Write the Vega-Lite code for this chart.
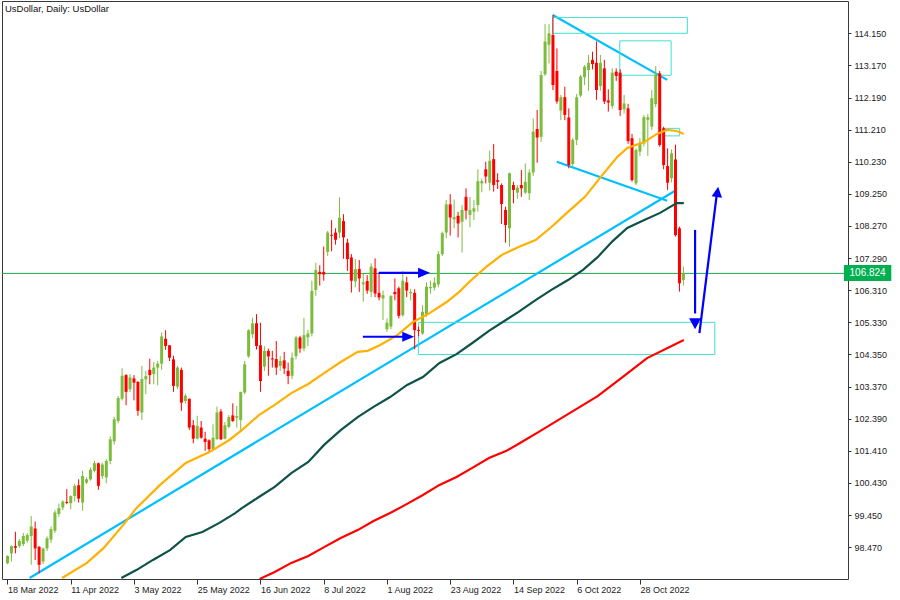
{
"$schema":"https://vega.github.io/schema/vega-lite/v6.json",
"width":846,"height":578,
"autosize":"none",
"padding":{"left":2,"top":1,"right":52,"bottom":21},
"background":"white",
"title":{"text":"UsDollar, Daily:  UsDollar","anchor":"start","frame":"group","orient":"top","offset":-20,"dx":3,"baseline":"alphabetic","font":"Liberation Sans","fontSize":9.5,"fontWeight":"normal","color":"#111111"},
"config":{"view":{"stroke":"#3a3a3a","strokeWidth":1},"font":"Liberation Sans"},
"datasets":{
"candles":[
{"i":0,"o":97.98,"h":98.22,"l":97.95,"c":98.2},
{"i":1,"o":98.28,"h":98.52,"l":98.03,"c":98.5},
{"i":2,"o":98.5,"h":98.94,"l":98.28,"c":98.45},
{"i":3,"o":98.5,"h":98.72,"l":98.45,"c":98.66},
{"i":4,"o":98.56,"h":98.9,"l":98.5,"c":98.81},
{"i":5,"o":98.67,"h":98.9,"l":98.6,"c":98.84},
{"i":6,"o":98.81,"h":99.42,"l":97.93,"c":99.1},
{"i":7,"o":99.04,"h":99.25,"l":98.08,"c":98.43},
{"i":8,"o":98.48,"h":98.5,"l":97.67,"c":97.93},
{"i":9,"o":98.03,"h":98.46,"l":97.95,"c":98.43},
{"i":10,"o":98.43,"h":98.8,"l":98.35,"c":98.74},
{"i":11,"o":98.7,"h":99.1,"l":98.6,"c":99.02},
{"i":12,"o":98.97,"h":99.6,"l":98.9,"c":99.53},
{"i":13,"o":99.48,"h":99.8,"l":99.4,"c":99.66},
{"i":14,"o":99.68,"h":99.9,"l":99.6,"c":99.86},
{"i":15,"o":99.85,"h":100.24,"l":99.78,"c":99.82},
{"i":16,"o":99.81,"h":100.05,"l":99.63,"c":100.03},
{"i":17,"o":100.03,"h":100.4,"l":99.86,"c":100.34},
{"i":18,"o":100.36,"h":100.54,"l":99.83,"c":99.95},
{"i":19,"o":99.83,"h":100.8,"l":99.58,"c":100.64},
{"i":20,"o":100.44,"h":100.6,"l":100.4,"c":100.54},
{"i":21,"o":100.54,"h":100.9,"l":100.5,"c":100.83},
{"i":22,"o":100.8,"h":101.1,"l":100.75,"c":101.03},
{"i":23,"o":101.03,"h":101.05,"l":100.22,"c":100.34},
{"i":24,"o":100.64,"h":101.05,"l":100.55,"c":100.99},
{"i":25,"o":100.6,"h":101.15,"l":100.42,"c":101.1},
{"i":26,"o":101.1,"h":101.85,"l":101.0,"c":101.76},
{"i":27,"o":101.7,"h":102.45,"l":101.6,"c":102.37},
{"i":28,"o":102.32,"h":103.08,"l":102.25,"c":103.02},
{"i":29,"o":103.0,"h":103.93,"l":102.95,"c":103.7},
{"i":30,"o":103.72,"h":103.75,"l":102.8,"c":103.21},
{"i":31,"o":103.29,"h":103.75,"l":103.2,"c":103.65},
{"i":32,"o":103.62,"h":103.72,"l":102.95,"c":103.49},
{"i":33,"o":103.51,"h":103.54,"l":102.48,"c":102.63},
{"i":34,"o":102.58,"h":104.0,"l":102.35,"c":103.6},
{"i":35,"o":103.59,"h":103.85,"l":103.14,"c":103.69},
{"i":36,"o":103.88,"h":104.22,"l":103.44,"c":103.72},
{"i":37,"o":103.75,"h":104.12,"l":103.44,"c":103.95},
{"i":38,"o":103.95,"h":104.15,"l":103.41,"c":104.07},
{"i":39,"o":104.07,"h":105.02,"l":103.88,"c":104.9},
{"i":40,"o":104.83,"h":105.09,"l":104.49,"c":104.61},
{"i":41,"o":104.63,"h":104.63,"l":104.15,"c":104.25},
{"i":42,"o":104.2,"h":104.31,"l":103.21,"c":103.39},
{"i":43,"o":103.37,"h":104.0,"l":103.3,"c":103.95},
{"i":44,"o":103.88,"h":103.95,"l":102.63,"c":102.88},
{"i":45,"o":102.93,"h":103.15,"l":102.85,"c":103.09},
{"i":46,"o":103.0,"h":103.0,"l":102.05,"c":102.12},
{"i":47,"o":102.19,"h":102.35,"l":101.64,"c":101.78},
{"i":48,"o":101.78,"h":102.48,"l":101.76,"c":102.17},
{"i":49,"o":102.12,"h":102.32,"l":101.78,"c":101.81},
{"i":50,"o":101.78,"h":101.99,"l":101.41,"c":101.68},
{"i":51,"o":101.73,"h":101.76,"l":101.34,"c":101.46},
{"i":52,"o":101.46,"h":102.22,"l":101.44,"c":101.81},
{"i":53,"o":101.76,"h":102.76,"l":101.76,"c":102.58},
{"i":54,"o":102.61,"h":102.68,"l":101.74,"c":101.76},
{"i":55,"o":101.78,"h":102.29,"l":101.76,"c":102.19},
{"i":56,"o":102.14,"h":102.5,"l":102.1,"c":102.44},
{"i":57,"o":102.49,"h":102.86,"l":102.29,"c":102.32},
{"i":58,"o":102.42,"h":102.78,"l":102.12,"c":102.47},
{"i":59,"o":102.35,"h":103.21,"l":102.05,"c":103.21},
{"i":60,"o":103.19,"h":104.15,"l":103.14,"c":104.05},
{"i":61,"o":104.29,"h":105.12,"l":104.25,"c":105.09},
{"i":62,"o":104.97,"h":105.47,"l":104.85,"c":105.3},
{"i":63,"o":105.3,"h":105.58,"l":104.5,"c":104.61},
{"i":64,"o":104.63,"h":105.32,"l":103.21,"c":103.54},
{"i":65,"o":103.98,"h":104.6,"l":103.85,"c":104.46},
{"i":66,"o":104.46,"h":104.53,"l":103.7,"c":104.29},
{"i":67,"o":104.23,"h":104.46,"l":103.95,"c":104.2},
{"i":68,"o":104.21,"h":104.76,"l":103.72,"c":103.95},
{"i":69,"o":104.0,"h":104.3,"l":103.85,"c":104.15},
{"i":70,"o":104.17,"h":104.43,"l":103.75,"c":103.92},
{"i":71,"o":103.85,"h":104.1,"l":103.44,"c":103.69},
{"i":72,"o":103.7,"h":104.41,"l":103.6,"c":104.25},
{"i":73,"o":104.3,"h":104.92,"l":104.2,"c":104.87},
{"i":74,"o":104.87,"h":104.92,"l":104.4,"c":104.53},
{"i":75,"o":104.53,"h":105.47,"l":104.45,"c":104.94},
{"i":76,"o":104.87,"h":105.1,"l":104.6,"c":104.99},
{"i":77,"o":104.99,"h":106.6,"l":104.9,"c":106.29},
{"i":78,"o":106.32,"h":107.15,"l":106.14,"c":106.93},
{"i":79,"o":106.87,"h":107.07,"l":106.45,"c":106.8},
{"i":80,"o":106.87,"h":107.64,"l":106.6,"c":106.79},
{"i":81,"o":107.48,"h":108.12,"l":107.36,"c":108.07},
{"i":82,"o":108.0,"h":108.45,"l":107.5,"c":107.97},
{"i":83,"o":108.07,"h":108.2,"l":107.7,"c":107.85},
{"i":84,"o":108.07,"h":109.14,"l":107.9,"c":108.52},
{"i":85,"o":108.42,"h":108.63,"l":107.27,"c":107.92},
{"i":86,"o":107.76,"h":107.88,"l":106.9,"c":107.26},
{"i":87,"o":107.31,"h":107.41,"l":106.24,"c":106.6},
{"i":88,"o":106.58,"h":107.26,"l":106.4,"c":106.95},
{"i":89,"o":106.96,"h":107.23,"l":106.26,"c":106.67},
{"i":90,"o":106.49,"h":106.82,"l":105.96,"c":106.55},
{"i":91,"o":106.59,"h":106.77,"l":106.2,"c":106.3},
{"i":92,"o":106.26,"h":107.13,"l":106.1,"c":107.03},
{"i":93,"o":106.98,"h":107.28,"l":106.1,"c":106.21},
{"i":94,"o":106.23,"h":106.82,"l":106.0,"c":106.09},
{"i":95,"o":106.06,"h":106.3,"l":105.4,"c":106.16},
{"i":96,"o":105.12,"h":105.45,"l":105.04,"c":105.32},
{"i":97,"o":105.2,"h":106.16,"l":105.12,"c":106.13},
{"i":98,"o":106.26,"h":106.67,"l":106.0,"c":106.19},
{"i":99,"o":106.37,"h":106.42,"l":105.45,"c":105.53},
{"i":100,"o":105.55,"h":106.9,"l":105.5,"c":106.6},
{"i":101,"o":106.55,"h":106.72,"l":106.1,"c":106.3},
{"i":102,"o":106.22,"h":106.35,"l":106.0,"c":106.26},
{"i":103,"o":106.23,"h":106.34,"l":104.51,"c":105.09},
{"i":104,"o":105.1,"h":105.2,"l":104.9,"c":105.07},
{"i":105,"o":104.99,"h":105.85,"l":104.95,"c":105.65},
{"i":106,"o":105.55,"h":106.55,"l":105.5,"c":106.42},
{"i":107,"o":106.37,"h":106.6,"l":106.2,"c":106.41},
{"i":108,"o":106.39,"h":106.7,"l":106.3,"c":106.54},
{"i":109,"o":106.49,"h":107.5,"l":106.4,"c":107.41},
{"i":110,"o":107.41,"h":108.1,"l":107.35,"c":108.05},
{"i":111,"o":108.07,"h":109.06,"l":107.9,"c":108.93},
{"i":112,"o":108.93,"h":109.24,"l":107.98,"c":108.53},
{"i":113,"o":108.47,"h":109.08,"l":108.2,"c":108.54},
{"i":114,"o":108.58,"h":108.7,"l":107.92,"c":108.35},
{"i":115,"o":108.4,"h":108.91,"l":107.46,"c":108.76},
{"i":116,"o":109.16,"h":109.42,"l":108.47,"c":108.74},
{"i":117,"o":108.61,"h":109.16,"l":108.23,"c":108.76},
{"i":118,"o":108.71,"h":109.06,"l":108.45,"c":108.81},
{"i":119,"o":108.91,"h":110.0,"l":108.71,"c":109.64},
{"i":120,"o":109.57,"h":109.72,"l":109.3,"c":109.64},
{"i":121,"o":110.0,"h":110.23,"l":109.57,"c":109.78},
{"i":122,"o":109.59,"h":110.57,"l":109.35,"c":110.26},
{"i":123,"o":110.31,"h":110.77,"l":109.32,"c":109.52},
{"i":124,"o":109.67,"h":109.88,"l":109.4,"c":109.62},
{"i":125,"o":109.52,"h":109.57,"l":108.33,"c":108.94},
{"i":126,"o":108.76,"h":108.86,"l":107.76,"c":108.3},
{"i":127,"o":108.2,"h":109.9,"l":107.64,"c":109.88},
{"i":128,"o":109.52,"h":109.62,"l":108.96,"c":109.37},
{"i":129,"o":109.29,"h":109.52,"l":109.1,"c":109.44},
{"i":130,"o":109.52,"h":109.98,"l":109.16,"c":109.42},
{"i":131,"o":109.29,"h":110.18,"l":109.25,"c":109.62},
{"i":132,"o":109.27,"h":110.0,"l":109.06,"c":109.9},
{"i":133,"o":109.9,"h":111.55,"l":109.8,"c":111.15},
{"i":134,"o":111.23,"h":111.81,"l":110.2,"c":110.97},
{"i":135,"o":110.99,"h":113.0,"l":110.84,"c":112.88},
{"i":136,"o":112.9,"h":114.43,"l":112.85,"c":113.9},
{"i":137,"o":113.8,"h":114.43,"l":113.23,"c":114.15},
{"i":138,"o":114.1,"h":114.71,"l":112.42,"c":112.57},
{"i":139,"o":113.0,"h":113.69,"l":112.0,"c":112.07},
{"i":140,"o":111.79,"h":112.27,"l":111.5,"c":112.2},
{"i":141,"o":112.2,"h":112.52,"l":111.5,"c":111.66},
{"i":142,"o":111.58,"h":111.86,"l":110.03,"c":110.13},
{"i":143,"o":110.16,"h":110.95,"l":110.1,"c":110.9},
{"i":144,"o":110.9,"h":112.3,"l":110.74,"c":112.2},
{"i":145,"o":112.25,"h":112.88,"l":112.2,"c":112.83},
{"i":146,"o":112.81,"h":113.18,"l":112.57,"c":113.13},
{"i":147,"o":113.03,"h":113.49,"l":112.4,"c":113.25},
{"i":148,"o":113.34,"h":113.59,"l":113.05,"c":113.21},
{"i":149,"o":113.25,"h":113.9,"l":112.12,"c":112.42},
{"i":150,"o":112.54,"h":113.49,"l":112.4,"c":113.25},
{"i":151,"o":113.08,"h":113.34,"l":111.99,"c":112.07},
{"i":152,"o":112.1,"h":112.44,"l":111.76,"c":112.04},
{"i":153,"o":111.93,"h":113.08,"l":111.85,"c":112.95},
{"i":154,"o":112.98,"h":113.08,"l":112.7,"c":112.85},
{"i":155,"o":112.95,"h":113.05,"l":111.63,"c":111.81},
{"i":156,"o":111.83,"h":112.27,"l":111.7,"c":112.01},
{"i":157,"o":111.86,"h":112.0,"l":110.78,"c":110.86},
{"i":158,"o":110.95,"h":111.08,"l":109.62,"c":109.67},
{"i":159,"o":109.57,"h":110.64,"l":109.52,"c":110.59},
{"i":160,"o":110.54,"h":110.95,"l":110.4,"c":110.81},
{"i":161,"o":110.79,"h":111.66,"l":110.7,"c":111.59},
{"i":162,"o":111.51,"h":111.69,"l":110.41,"c":111.59},
{"i":163,"o":111.3,"h":112.42,"l":111.2,"c":112.17},
{"i":164,"o":111.99,"h":113.15,"l":111.9,"c":112.88},
{"i":165,"o":112.93,"h":113.0,"l":110.69,"c":110.74},
{"i":166,"o":111.25,"h":111.3,"l":110.0,"c":110.13},
{"i":167,"o":110.1,"h":110.64,"l":109.37,"c":109.59},
{"i":168,"o":109.73,"h":110.61,"l":109.6,"c":110.49},
{"i":169,"o":110.3,"h":110.75,"l":107.95,"c":107.99},
{"i":170,"o":108.2,"h":108.25,"l":106.27,"c":106.52},
{"i":171,"o":106.62,"h":107.03,"l":106.45,"c":106.824}
],
"maOrange":[
{"i":13.8,"p":97.53},{"i":20.1,"p":97.99},{"i":24.3,"p":98.44},{"i":29.3,"p":99.15},{"i":32.6,"p":99.66},{"i":38.6,"p":100.37},{"i":45.1,"p":101.04},{"i":51.1,"p":101.37},{"i":56.1,"p":101.74},{"i":59.3,"p":102.04},{"i":63.6,"p":102.5},{"i":67.6,"p":102.81},{"i":71.8,"p":103.17},{"i":76.1,"p":103.45},{"i":80.1,"p":103.78},{"i":84.3,"p":104.12},{"i":88.6,"p":104.43},{"i":91.1,"p":104.46},{"i":94.3,"p":104.64},{"i":98.6,"p":104.94},{"i":102.6,"p":105.34},{"i":106.8,"p":105.61},{"i":111.1,"p":105.95},{"i":114.3,"p":106.26},{"i":116.8,"p":106.56},{"i":121.1,"p":107.02},{"i":125.1,"p":107.39},{"i":129.3,"p":107.63},{"i":133.6,"p":107.84},{"i":137.6,"p":108.24},{"i":141.8,"p":108.7},{"i":146.1,"p":109.16},{"i":150.1,"p":109.77},{"i":154.3,"p":110.38},{"i":156.8,"p":110.65},{"i":161.1,"p":110.83},{"i":164.3,"p":111.08},{"i":166.8,"p":111.2},{"i":169.3,"p":111.17},{"i":171.1,"p":111.08}
],
"maDark":[
{"i":28.8,"p":97.53},{"i":32.6,"p":97.77},{"i":36.8,"p":98.08},{"i":41.1,"p":98.38},{"i":45.1,"p":98.78},{"i":49.3,"p":98.93},{"i":53.6,"p":99.21},{"i":57.6,"p":99.51},{"i":59.3,"p":99.66},{"i":63.6,"p":100.0},{"i":67.6,"p":100.31},{"i":71.8,"p":100.73},{"i":76.1,"p":101.07},{"i":80.1,"p":101.59},{"i":84.3,"p":102.04},{"i":88.6,"p":102.44},{"i":92.6,"p":102.75},{"i":96.8,"p":103.05},{"i":101.1,"p":103.42},{"i":105.1,"p":103.66},{"i":109.3,"p":104.09},{"i":113.6,"p":104.36},{"i":117.6,"p":104.7},{"i":121.8,"p":105.07},{"i":129.3,"p":105.65},{"i":133.6,"p":106.01},{"i":137.6,"p":106.32},{"i":141.8,"p":106.62},{"i":145.6,"p":106.93},{"i":149.3,"p":107.32},{"i":153.1,"p":107.81},{"i":156.8,"p":108.21},{"i":161.1,"p":108.45},{"i":165.1,"p":108.67},{"i":169.3,"p":108.97},{"i":171.1,"p":108.97}
],
"maRed":[
{"i":63.8,"p":97.5},{"i":67.6,"p":97.71},{"i":71.8,"p":97.99},{"i":76.1,"p":98.2},{"i":80.1,"p":98.47},{"i":84.3,"p":98.75},{"i":88.6,"p":98.99},{"i":92.6,"p":99.27},{"i":96.8,"p":99.51},{"i":101.1,"p":99.79},{"i":105.1,"p":100.06},{"i":109.3,"p":100.37},{"i":113.6,"p":100.61},{"i":117.6,"p":100.89},{"i":121.8,"p":101.19},{"i":126.1,"p":101.4},{"i":130.1,"p":101.68},{"i":134.3,"p":101.98},{"i":141.8,"p":102.53},{"i":149.3,"p":103.08},{"i":155.6,"p":103.66},{"i":161.8,"p":104.24},{"i":171.1,"p":104.79}
],
"trend":[
{"i":5.6,"p":97.53,"i2":168.8,"p2":109.34},
{"i":137.95,"p":114.71,"i2":166.9,"p2":112.73},
{"i":138.95,"p":110.23,"i2":166.9,"p2":109.04}
],
"boxes":[
{"i":137.9,"p":114.63,"i2":172.0,"p2":114.15},
{"i":154.9,"p":113.92,"i2":167.9,"p2":112.87},
{"i":165.95,"p":111.25,"i2":170.05,"p2":111.02},
{"i":103.95,"p":105.33,"i2":178.95,"p2":104.35}
],
"shafts":[
{"i":93.9,"p":106.84,"i2":105.5,"p2":106.84},
{"i":89.9,"p":104.89,"i2":101.5,"p2":104.89},
{"i":173.95,"p":108.15,"i2":173.95,"p2":105.6},
{"i":175.05,"p":105.0,"i2":179.4,"p2":109.2}
],
"heads":[
{"kind":"right","i":106.9,"p":106.84},
{"kind":"right","i":102.9,"p":104.89},
{"kind":"down","i":173.95,"p":105.12},
{"kind":"up","i":179.8,"p":109.47}
],
"last":[{"i":211.6,"i2":223.6,"p":107.08,"p2":106.59,"im":217.6,"c":106.824}]
},
"layer":[
{"data":{"name":"last"},"mark":{"type":"rule","color":"#1aa64a","strokeWidth":1},
 "encoding":{"y":{"field":"c","type":"quantitative","scale":{"domain":[97.498,115.136],"nice":false,"zero":false},
   "axis":{"title":null,"orient":"right","values":[98.47,99.45,100.43,101.41,102.39,103.37,104.35,105.33,106.31,107.29,108.27,109.25,110.23,111.21,112.19,113.17,114.15],"tickCount":40,"format":".3f","grid":false,"domain":false,"tickSize":3,"tickColor":"#333333","labelPadding":3,"labelFont":"Liberation Sans","labelFontSize":9,"labelColor":"#222222","labelOverlap":false,"labelBound":false,"labelFlush":false}}}},
{"data":{"name":"trend"},"mark":{"type":"rule","color":"#00bfff","strokeWidth":2.2,"clip":true},
 "encoding":{"x":{"field":"i","type":"quantitative","scale":{"domain":[-0.125,211.375],"nice":false,"zero":false},
   "axis":{"title":null,"values":[0,16,32,48,64,80,96,112,128,144,160],"tickCount":40,"labelExpr":"['18 Mar 2022','11 Apr 2022','3 May 2022','25 May 2022','16 Jun 2022','8 Jul 2022','1 Aug 2022','23 Aug 2022','14 Sep 2022','6 Oct 2022','28 Oct 2022'][round(datum.value/16)]","grid":false,"domain":false,"tickSize":5,"tickColor":"#333333","labelAlign":"left","labelBaseline":"alphabetic","labelPadding":8,"labelFont":"Liberation Sans","labelFontSize":9,"labelColor":"#222222","labelFlush":false,"labelOverlap":false,"labelBound":false}},
  "x2":{"field":"i2"},
  "y":{"field":"p","type":"quantitative","scale":{"domain":[97.498,115.136],"nice":false,"zero":false},
   "axis":{"title":null,"orient":"right","values":[98.47,99.45,100.43,101.41,102.39,103.37,104.35,105.33,106.31,107.29,108.27,109.25,110.23,111.21,112.19,113.17,114.15],"tickCount":40,"format":".3f","grid":false,"domain":false,"tickSize":3,"tickColor":"#333333","labelPadding":3,"labelFont":"Liberation Sans","labelFontSize":9,"labelColor":"#222222","labelOverlap":false,"labelBound":false,"labelFlush":false}},
  "y2":{"field":"p2"}}},
{"data":{"name":"boxes"},"mark":{"type":"rect","filled":false,"stroke":"#40e0d0","strokeWidth":1},
 "encoding":{"x":{"field":"i","type":"quantitative"},"x2":{"field":"i2"},"y":{"field":"p","type":"quantitative"},"y2":{"field":"p2"}}},
{"data":{"name":"candles"},"mark":{"type":"rule","strokeWidth":1},
 "encoding":{"x":{"field":"i","type":"quantitative"},"y":{"field":"l","type":"quantitative"},"y2":{"field":"h"},
  "color":{"condition":{"test":"datum.c >= datum.o","value":"#7cbc3c"},"value":"#ff0000"}}},
{"data":{"name":"candles"},"mark":{"type":"bar","size":3},
 "encoding":{"x":{"field":"i","type":"quantitative"},"y":{"field":"o","type":"quantitative"},"y2":{"field":"c"},
  "color":{"condition":{"test":"datum.c >= datum.o","value":"#7cbc3c"},"value":"#ff0000"}}},
{"data":{"name":"maOrange"},"mark":{"type":"line","color":"#ffb000","strokeWidth":2.2,"clip":true},
 "encoding":{"x":{"field":"i","type":"quantitative"},"y":{"field":"p","type":"quantitative"}}},
{"data":{"name":"maDark"},"mark":{"type":"line","color":"#0e5248","strokeWidth":2.2,"clip":true},
 "encoding":{"x":{"field":"i","type":"quantitative"},"y":{"field":"p","type":"quantitative"}}},
{"data":{"name":"maRed"},"mark":{"type":"line","color":"#ff0000","strokeWidth":2.2,"clip":true},
 "encoding":{"x":{"field":"i","type":"quantitative"},"y":{"field":"p","type":"quantitative"}}},
{"data":{"name":"shafts"},"mark":{"type":"rule","color":"#0000ff","strokeWidth":2.2},
 "encoding":{"x":{"field":"i","type":"quantitative"},"x2":{"field":"i2"},"y":{"field":"p","type":"quantitative"},"y2":{"field":"p2"}}},
{"data":{"name":"heads"},"transform":[{"filter":"datum.kind == 'right'"}],
 "mark":{"type":"point","shape":"M0,0L-2,-0.85L-2,0.85Z","size":144,"filled":true,"color":"#0000ff","opacity":1,"strokeWidth":0},
 "encoding":{"x":{"field":"i","type":"quantitative"},"y":{"field":"p","type":"quantitative"}}},
{"data":{"name":"heads"},"transform":[{"filter":"datum.kind == 'down'"}],
 "mark":{"type":"point","shape":"M0,0L-1,-1.85L1,-1.85Z","size":144,"filled":true,"color":"#0000ff","opacity":1,"strokeWidth":0},
 "encoding":{"x":{"field":"i","type":"quantitative"},"y":{"field":"p","type":"quantitative"}}},
{"data":{"name":"heads"},"transform":[{"filter":"datum.kind == 'up'"}],
 "mark":{"type":"point","shape":"M0,0L-0.95,1.9L0.95,1.9Z","size":121,"angle":7.4,"filled":true,"color":"#0000ff","opacity":1,"strokeWidth":0},
 "encoding":{"x":{"field":"i","type":"quantitative"},"y":{"field":"p","type":"quantitative"}}},
{"data":{"name":"last"},"mark":{"type":"rect","color":"#00b050"},
 "encoding":{"x":{"field":"i","type":"quantitative"},"x2":{"field":"i2"},"y":{"field":"p","type":"quantitative"},"y2":{"field":"p2"}}},
{"data":{"name":"last"},"mark":{"type":"text","color":"#ffffff","font":"Liberation Sans","fontSize":10,"align":"center","baseline":"middle"},
 "encoding":{"x":{"field":"im","type":"quantitative"},"y":{"field":"c","type":"quantitative"},"text":{"field":"c","type":"quantitative","format":".3f"}}}
]
}
